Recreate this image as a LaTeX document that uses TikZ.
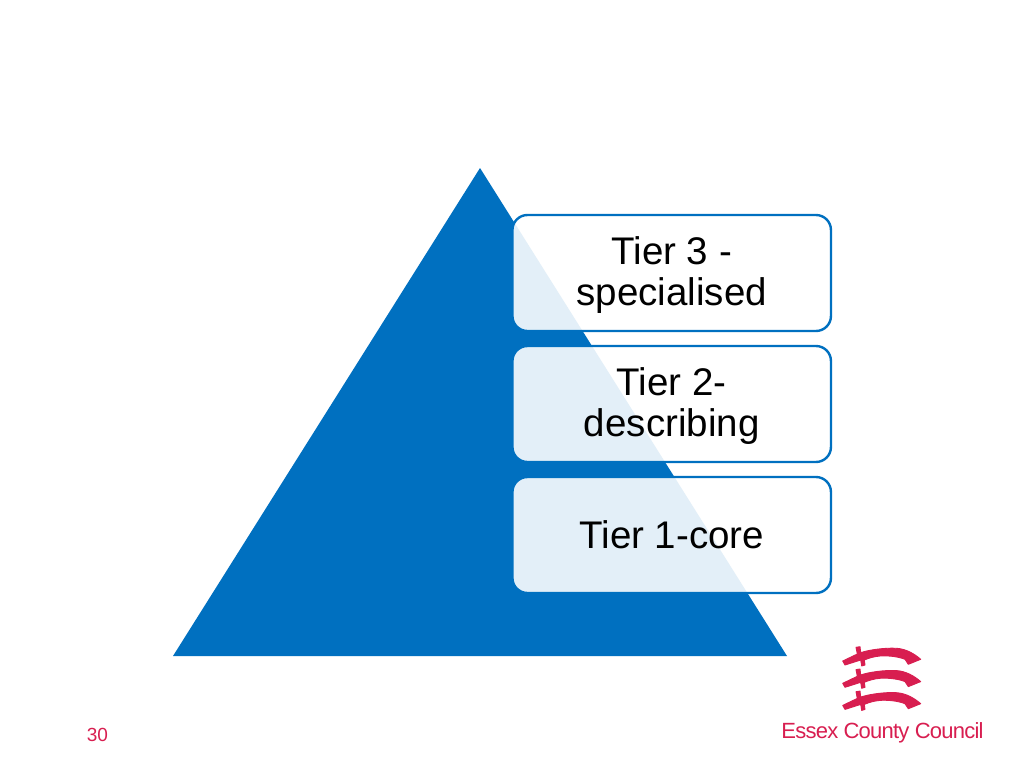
\documentclass[tikz,border=0pt]{standalone}
\usepackage{fontspec}
\setmainfont{Liberation Sans}
\newfontfamily\logofont[LetterSpace=-3.5]{Liberation Sans}
\definecolor{tierblue}{HTML}{0070C0}
\definecolor{essexred}{HTML}{D81E50}
\tikzset{
  tierbox/.style={draw=tierblue,line width=2.4pt,rounded corners=15pt,fill=white,fill opacity=0.89,
    minimum width=318.5pt,minimum height=116pt,inner sep=0pt},
  tierlabel/.style={inner sep=0pt,align=center,font=\fontsize{38.5}{41}\selectfont,text=black},
  redtext/.style={text=essexred,inner sep=0pt},
  sabre/.pic={
    \filldraw[essexred,line width=0.9pt,line join=round] (842.7,661) -- (857.3,654) -- (856,647.3) -- (860,646.7) -- (860.7,652.7)
      .. controls (868,650) and (885,647.5) .. (896.7,648.3)
      .. controls (906,649) and (914,653.5) .. (920.7,659.3)
      -- (908.3,664.3) -- (905,659.3)
      .. controls (897,656) and (885,655.5) .. (880,656)
      .. controls (874,656.5) and (869,658) .. (864.3,660)
      -- (865,665) -- (861.7,666) -- (860.7,660) -- (845,665) -- cycle;
  }
}
\begin{document}
\begin{tikzpicture}[x=1pt,y=-1pt]
\useasboundingbox (0,0) rectangle (1024,768);
\fill[white] (0,0) rectangle (1024,768);
\fill[tierblue] (480,168) coordinate (apex) -- (787,656) coordinate (br) -- (173,656) coordinate (bl) -- cycle;
\node[tierbox] (t3) at (671.7,273) {};
\node[tierbox] (t2) at (671.7,404) {};
\node[tierbox] (t1) at (671.7,535) {};
\node[tierlabel,yshift=-2.5pt] (l3) at (t3) {Tier 3 -\\specialised};
\node[tierlabel,yshift=-2.5pt] (l2) at (t2) {Tier 2-\\describing};
\node[tierlabel] (l1) at (t1) {Tier 1-core};
\pic at (0,0) {sabre};
\pic at (0,22.3) {sabre};
\pic at (0,44.4) {sabre};
\node[redtext,anchor=base] (essex) at (882.5,738) {\fontsize{22}{24}\logofont Essex County Council};
\node[redtext,anchor=base] (pagenum) at (97.5,741) {\fontsize{19}{21}\selectfont 30};
\end{tikzpicture}
\end{document}
